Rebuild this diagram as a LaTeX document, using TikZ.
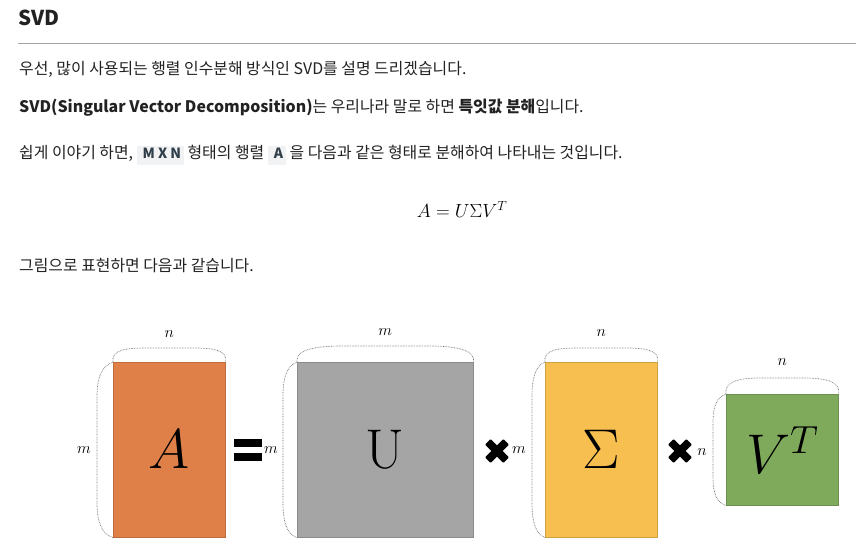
\documentclass[tikz,border=0pt]{standalone}
\usepackage{fix-cm}
\usepackage[no-math]{fontspec}
\setmainfont{Noto Sans CJK KR}
\newfontfamily\codefont[LetterSpace=22]{Noto Sans CJK KR}
\usetikzlibrary{positioning}

\definecolor{matA}{HTML}{DF8049}
\definecolor{matU}{HTML}{A5A5A5}
\definecolor{matS}{HTML}{F6BF4F}
\definecolor{matV}{HTML}{7FAA5C}
\definecolor{codebg}{HTML}{F0F2F4}
\definecolor{codefg}{HTML}{2F3E48}
\definecolor{bodyfg}{HTML}{222222}

\newcommand{\codebox}[1]{{\setlength\fboxsep{0pt}\colorbox{codebg}{\strut\hspace{6pt}{\codefont\bfseries\fontsize{14}{16}\selectfont\color{codefg}#1}\hspace{3pt}}}}

\begin{document}
\begin{tikzpicture}[x=1pt, y=-1pt,
    body/.style={anchor=west, inner sep=0pt, text=bodyfg, font=\fontsize{15.9}{19}\selectfont},
    mat/.style={draw=#1!85!black, fill=#1, line width=0.6pt, inner sep=0pt, anchor=north west,
        font=\fontsize{56}{60}\selectfont},
    dim/.style={black!55, line width=0.7pt, dash pattern=on 0.7pt off 0.9pt},
    dimlbl/.style={inner sep=0pt, font=\fontsize{16}{18}\selectfont}
]
    \useasboundingbox (0,0) rectangle (856,551);

    % 제목과 본문
    \node[anchor=west, inner sep=0pt, text=bodyfg, font=\bfseries\fontsize{20.5}{24}\selectfont] (title) at (18,18) {SVD};
    \draw[gray!70, line width=1pt] (18,44) -- (856,44);
    \node[body] (l1) at (19,69) {우선, 많이 사용되는 행렬 인수분해 방식인 SVD를 설명 드리겠습니다.};
    \node[body] (l2) at (19,108) {\textbf{SVD(Singular Vector Decomposition)}는 우리나라 말로 하면 \textbf{특잇값 분해}입니다.};
    \node[body] (l3) at (19,155) {쉽게 이야기 하면, \codebox{MXN} 형태의 행렬 \codebox{A} 을 다음과 같은 형태로 분해하여 나타내는 것입니다.};
    \node[anchor=base, inner sep=0pt, font=\fontsize{19}{22}\selectfont] (eq) at (462,217) {$A = U\Sigma V^T$};
    \node[body] (l4) at (19,266) {그림으로 표현하면 다음과 같습니다.};

    % A 행렬
    \node[mat=matA, minimum width=112pt, minimum height=175pt] (A) at (113,362) {$A$};
    \draw[dim] (A.north west) .. controls +(-2,-12) and +(-22,0) .. ([shift={(34pt,14pt)}]A.north west)
        -- ([shift={(-34pt,14pt)}]A.north east) .. controls +(22,0) and +(2,-12) .. (A.north east);
    \draw[dim] (A.north west) .. controls +(-12,4) and +(0,-18) .. ([shift={(-16pt,-35pt)}]A.north west)
        -- ([shift={(-16pt,35pt)}]A.south west) .. controls +(0,18) and +(-12,-4) .. (A.south west);
    \node[dimlbl, above=24pt of A] (An) {$n$};
    \node[dimlbl, left=22pt of A] (Am) {$m$};

    % =
    \fill (234,439) rectangle (262,447);
    \fill (234,453) rectangle (262,461);

    % U 행렬
    \node[mat=matU, minimum width=176pt, minimum height=175pt] (U) at (297,362) {$\mathrm{U}$};
    \draw[dim] (U.north west) .. controls +(-2,-12) and +(-28,0) .. ([shift={(45pt,16pt)}]U.north west)
        -- ([shift={(-45pt,16pt)}]U.north east) .. controls +(28,0) and +(2,-12) .. (U.north east);
    \draw[dim] (U.north west) .. controls +(-11,4) and +(0,-18) .. ([shift={(-14pt,-35pt)}]U.north west)
        -- ([shift={(-14pt,35pt)}]U.south west) .. controls +(0,18) and +(-11,-4) .. (U.south west);
    \node[dimlbl, above=26pt of U] (Um) {$m$};
    \node[dimlbl, left=19pt of U] (Uleft) {$m$};

    % x
    \fill[rounded corners=1pt, rotate around={45:(497,451)}] (484,447) rectangle (510,455);
    \fill[rounded corners=1pt, rotate around={-45:(497,451)}] (484,447) rectangle (510,455);

    % Sigma 행렬
    \node[mat=matS, minimum width=112pt, minimum height=175pt] (S) at (545,362) {$\Sigma$};
    \draw[dim] (S.north west) .. controls +(-2,-12) and +(-22,0) .. ([shift={(34pt,14pt)}]S.north west)
        -- ([shift={(-34pt,14pt)}]S.north east) .. controls +(22,0) and +(2,-12) .. (S.north east);
    \draw[dim] (S.north west) .. controls +(-10,4) and +(0,-18) .. ([shift={(-13pt,-35pt)}]S.north west)
        -- ([shift={(-13pt,35pt)}]S.south west) .. controls +(0,18) and +(-10,-4) .. (S.south west);
    \node[dimlbl, above=25pt of S] (Sn) {$n$};
    \node[dimlbl, left=19pt of S] (Sm) {$m$};

    % x
    \fill[rounded corners=1pt, rotate around={45:(680,451)}] (667,447) rectangle (693,455);
    \fill[rounded corners=1pt, rotate around={-45:(680,451)}] (667,447) rectangle (693,455);

    % V^T 행렬
    \node[mat=matV, minimum width=112pt, minimum height=111pt] (V) at (726,394) {$V^T$};
    \draw[dim] (V.north west) .. controls +(-2,-12) and +(-22,0) .. ([shift={(34pt,16pt)}]V.north west)
        -- ([shift={(-34pt,16pt)}]V.north east) .. controls +(22,0) and +(2,-12) .. (V.north east);
    \draw[dim] (V.north west) .. controls +(-10,4) and +(0,-18) .. ([shift={(-13pt,-30pt)}]V.north west)
        -- ([shift={(-13pt,30pt)}]V.south west) .. controls +(0,18) and +(-10,-4) .. (V.south west);
    \node[dimlbl, above=28pt of V] (Vn) {$n$};
    \node[dimlbl, left=19pt of V, yshift=-2pt] (Vleft) {$n$};
\end{tikzpicture}
\end{document}
